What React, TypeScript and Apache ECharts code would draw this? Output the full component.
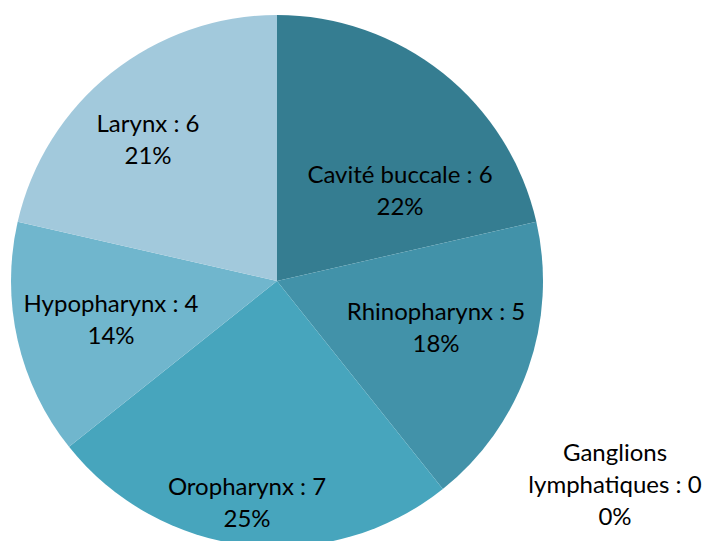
import React, { useEffect, useRef } from "react";
import * as echarts from "echarts";

const categories = [
  "Cavité buccale",
  "Rhinopharynx",
  "Ganglions lymphatiques",
  "Oropharynx",
  "Hypopharynx",
  "Larynx",
];
const values = [6, 5, 0, 7, 4, 6];
const colors = ["#357d91", "#4292a9", "#2f6f82", "#47a5bd", "#70b6cd", "#a2c9dc"];
// label centres (px) for each slice, as placed in the original
const labelPos: [number, number][] = [
  [400, 189],
  [436, 326],
  [615, 483],
  [247, 501],
  [111, 318],
  [148, 138],
];

export default function App() {
  const ref = useRef<HTMLDivElement>(null);
  useEffect(() => {
    if (!ref.current) return;
    const chart = echarts.init(ref.current, undefined, { renderer: "svg" });
    chart.setOption({
      animation: false,
      series: [
        {
          type: "pie",
          center: [277, 281],
          radius: 266,
          startAngle: 90,
          clockwise: true,
          percentPrecision: 0,
          avoidLabelOverlap: false,
          data: categories.map((c, i) => ({
            name: c,
            value: values[i],
            itemStyle: { color: colors[i] },
          })),
          label: {
            show: true,
            position: "inside",
            color: "#000000",
            fontFamily: "Lato, 'Open Sans', sans-serif",
            fontSize: 24,
            lineHeight: 32,
            align: "center",
            formatter: (p: any) => {
              const name = p.name.length > 18 ? p.name.replace(" ", "\n") : p.name;
              return `${name} : ${p.value}\n${p.percent}%`;
            },
          },
          labelLine: { show: false },
          labelLayout: (p: any) => ({
            x: labelPos[p.dataIndex][0],
            y: labelPos[p.dataIndex][1],
            align: "center",
            verticalAlign: "middle",
          }),
        },
      ],
    });
    return () => chart.dispose();
  }, []);
  return (
    <div
      ref={ref}
      style={{ position: "absolute", left: 0, top: 0, width: 709, height: 541, background: "#ffffff" }}
    />
  );
}
